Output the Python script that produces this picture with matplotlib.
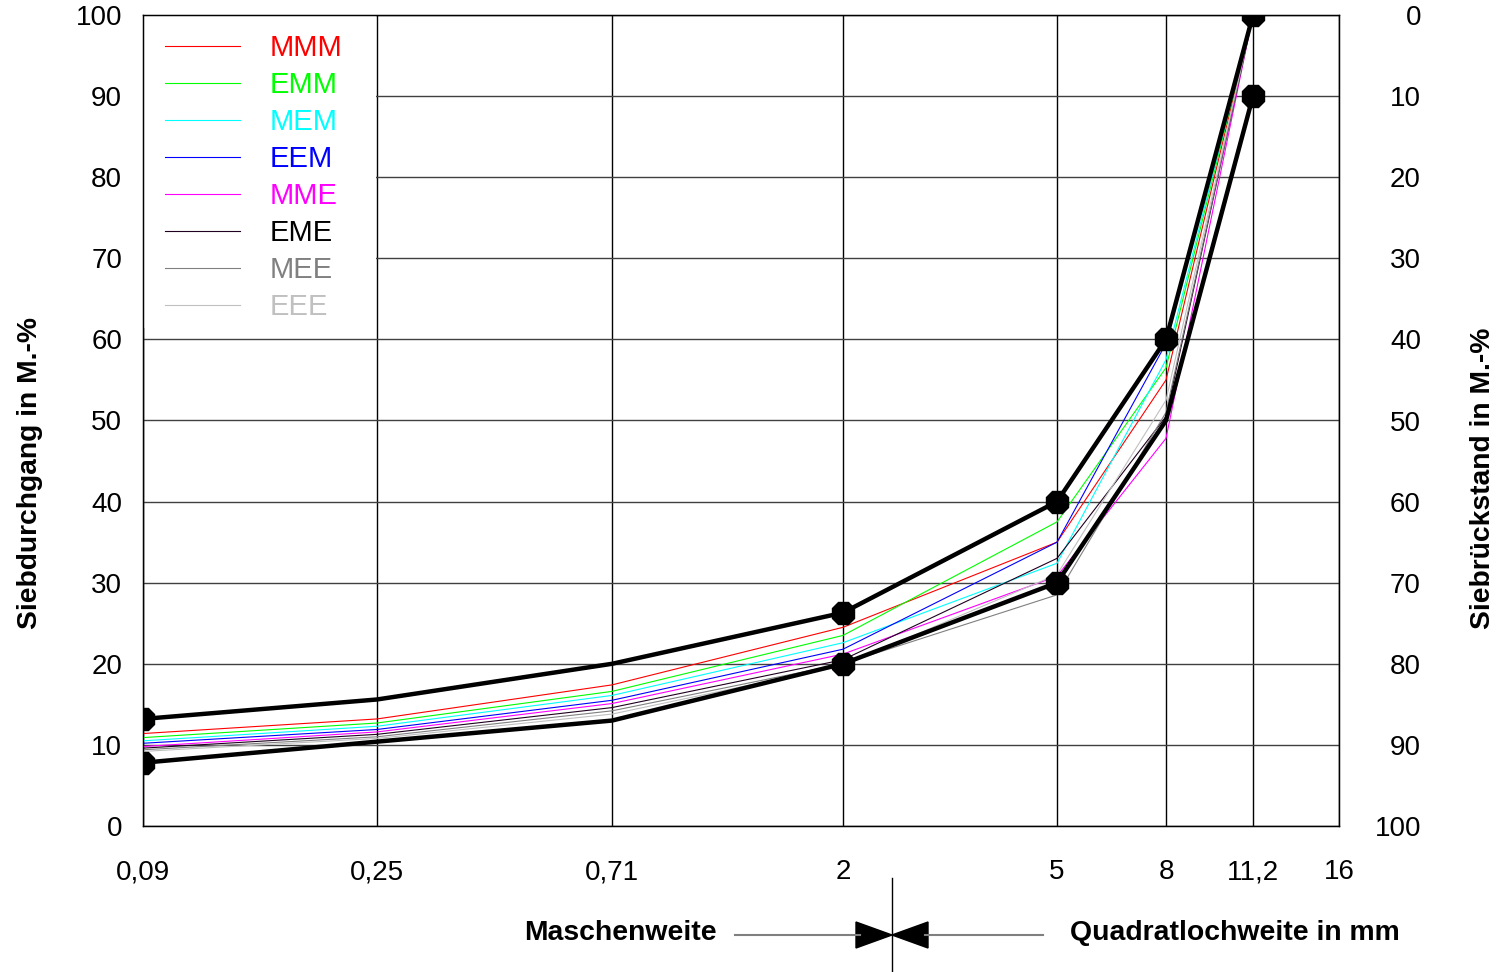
import numpy as np
import matplotlib
matplotlib.use("Agg")
import matplotlib.pyplot as plt
from matplotlib.patches import Polygon, Rectangle

plt.rcParams["font.family"] = ["Liberation Sans", "DejaVu Sans"]

# sieve sizes in mm
sieve = [0.09, 0.25, 0.71, 2, 5, 8, 11.2]
tick_vals = [0.09, 0.25, 0.71, 2, 5, 8, 11.2, 16]
tick_labels = ["0,09", "0,25", "0,71", "2", "5", "8", "11,2", "16"]

# grading limits (thick black)
upper = [13.2, 15.6, 20.0, 26.3, 40.0, 60.0, 100.0]
lower = [7.8, 10.4, 13.0, 20.0, 30.0, 50.0, 90.0]

# mixes
names = ["MMM", "EMM", "MEM", "EEM", "MME", "EME", "MEE", "EEE"]
colors = ["#ff0000", "#00ff00", "#00ffff", "#0000ff", "#ff00ff", "#200020", "#808080", "#c0c0c0"]
mmm = [11.4, 13.2, 17.4, 24.5, 35.0, 55.0, 100.0]
emm = [10.9, 12.7, 16.6, 23.5, 37.5, 56.5, 100.0]
mem = [10.5, 12.3, 16.1, 22.6, 32.4, 57.5, 100.0]
eem = [10.2, 11.9, 15.5, 21.8, 35.0, 59.5, 100.0]
mme = [9.8, 11.6, 15.1, 21.2, 30.8, 47.8, 100.0]
eme = [9.6, 11.3, 14.6, 20.5, 33.0, 50.5, 100.0]
mee = [9.4, 11.0, 14.2, 20.0, 28.5, 51.0, 100.0]
eee = [9.2, 10.8, 13.8, 19.8, 31.0, 52.5, 100.0]
series = [mmm, emm, mem, eem, mme, eme, mee, eee]

# the chart's x scale is log-like but not exactly logarithmic
tick_pos = np.array([0, 234, 469, 700, 914, 1023, 1110, 1196]) / 1196.0
log_ticks = np.log10(tick_vals)


def fwd(x):
    x = np.clip(np.asarray(x, dtype=float), 1e-6, None)
    return np.interp(np.log10(x), log_ticks, tick_pos)


def inv(p):
    return 10 ** np.interp(p, tick_pos, log_ticks)


fig = plt.figure(figsize=(14.99, 9.72), dpi=100)
W, H = 1499, 972
ax = fig.add_axes([143 / W, (H - 826) / H, 1196 / W, 811 / H])
ax.set_xscale("function", functions=(fwd, inv))
ax.set_xlim(0.09, 16)
ax.set_ylim(0, 100)

ax.set_xticks(tick_vals)
ax.set_xticklabels(tick_labels)
ax.set_yticks(range(0, 101, 10))
ax.minorticks_off()
ax.tick_params(axis="x", length=0, pad=24, labelsize=20)
ax.tick_params(axis="y", length=0, pad=15, labelsize=20)

ax.grid(axis="x", color="black", linewidth=1)
ax.grid(axis="y", color="#404040", linewidth=1)
for s in ax.spines.values():
    s.set_linewidth(1)

# white area behind the legend hides the horizontal grid lines there
ax.add_patch(Rectangle((0, (826 - 328) / 811), 233 / 1196, 1 - (826 - 328) / 811,
                       transform=ax.transAxes, facecolor="white", edgecolor="none", zorder=2))

for name, c, vals in zip(names, colors, series):
    ax.plot(sieve, vals, color=c, linewidth=0.8, label=name, zorder=3)

ax.plot(sieve, upper, color="black", linewidth=3.2, marker="8", markersize=17,
        markevery=[0, 3, 4, 5, 6], zorder=4)
ax.plot(sieve, lower, color="black", linewidth=3.2, marker="8", markersize=17,
        markevery=[0, 3, 4, 6], zorder=4)

leg = ax.legend(loc="upper left", bbox_to_anchor=(0, 1 + 3 / 811), fontsize=21,
                handlelength=2.57, handletextpad=1.03, labelspacing=0.31,
                borderpad=0.75, borderaxespad=0, frameon=False,
                labelcolor="linecolor")
for t in leg.get_texts():
    if t.get_text() == "EME":
        t.set_color("black")

ax2 = ax.twinx()
ax2.set_ylim(100, 0)
ax2.set_yticks(range(0, 101, 10))
ax2.tick_params(axis="y", length=0, pad=59, labelsize=20)
for t in ax2.get_yticklabels():
    t.set_horizontalalignment("right")

fig.text(30 / W, 1 - 473 / H, "Siebdurchgang in M.-%", rotation=90, fontsize=20.3,
         fontweight="bold", ha="center", va="center")
fig.text(1483 / W, 1 - 478 / H, "Siebrückstand in M.-%", rotation=90, fontsize=20.3,
         fontweight="bold", ha="center", va="center")

# bottom annotation in pixel coordinates
ov = fig.add_axes([0, 0, 1, 1], facecolor="none")
ov.set_xlim(0, W)
ov.set_ylim(H, 0)
ov.axis("off")
ov.text(717, 933, "Maschenweite", fontsize=20.4, fontweight="bold", ha="right", va="center")
ov.text(1070, 933, "Quadratlochweite in mm", fontsize=20.4, fontweight="bold", ha="left", va="center")
ov.plot([735, 860], [935, 935], color="#808080", linewidth=1.5)
ov.plot([925, 1043], [935, 935], color="#808080", linewidth=1.5)
ov.plot([892, 892], [878, 972], color="black", linewidth=1)
ov.add_patch(Polygon([[856, 922], [856, 948], [892, 935]], closed=True, color="black"))
ov.add_patch(Polygon([[928, 922], [928, 948], [892, 935]], closed=True, color="black"))

fig.savefig("out.png", dpi=100)
